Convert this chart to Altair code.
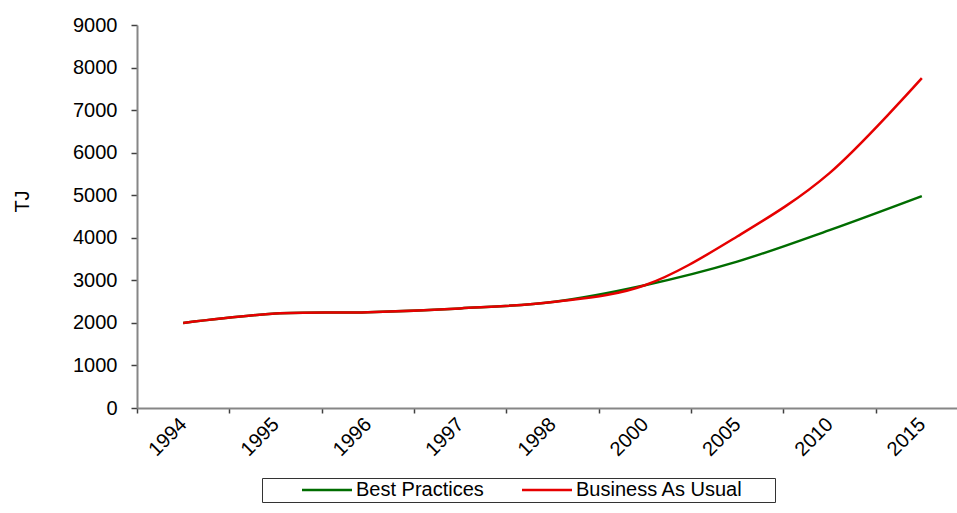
import altair as alt
import pandas as pd

years = ["1994", "1995", "1996", "1997", "1998", "2000", "2005", "2010", "2015"]
best_practices = [2000, 2220, 2250, 2340, 2490, 2885, 3440, 4180, 4980]
business_as_usual = [2000, 2220, 2250, 2340, 2490, 2885, 4030, 5520, 7750]
series_names = ["Best Practices", "Business As Usual"]
series_colors = ["#006d00", "#e60000"]

rows = []
for name, vals in zip(series_names, [best_practices, business_as_usual]):
    for i, (yr, v) in enumerate(zip(years, vals)):
        rows.append({"year": yr, "value": v, "series": name, "order": i})
df = pd.DataFrame(rows)

FONT = "Liberation Sans"
label_expr = (
    f"datum.label == '{series_names[-1]}' ? "
    "datum.label + '\\u2800\\u2800' : datum.label"
)

chart = alt.Chart(df).mark_line(
    interpolate="cardinal", tension=0, strokeWidth=2.5
).encode(
    x=alt.X(
        "year:N",
        sort=years,
        bandPosition=0.5,
        scale=alt.Scale(type="band", domain=years, range=[0, 831], paddingInner=0, paddingOuter=0),
        axis=alt.Axis(
            title=None,
            tickBand="extent",
            labelAngle=-45,
            labelAlign="right",
            labelBaseline="middle",
            labelPadding=8,
            tickSize=5,
            labelFontSize=20,
            labelFont=FONT,
            labelColor="black",
            domainColor="#868686",
            domainWidth=2,
            tickColor="#404040",
            tickWidth=1.5,
            grid=False,
        ),
    ),
    y=alt.Y(
        "value:Q",
        scale=alt.Scale(domain=[0, 9000], nice=False),
        axis=alt.Axis(
            title="TJ",
            values=list(range(0, 9001, 1000)),
            format="d",
            tickSize=6,
            labelPadding=14,
            labelFontSize=20,
            labelFont=FONT,
            labelColor="black",
            titleFontSize=20,
            titleFont=FONT,
            titleFontWeight="normal",
            titleColor="black",
            titleX=-115,
            titleY=176,
            titleAlign="center",
            titleBaseline="middle",
            titleAngle=270,
            domainColor="#868686",
            domainWidth=2,
            tickColor="#404040",
            tickWidth=1.5,
            grid=False,
        ),
    ),
    color=alt.Color(
        "series:N",
        scale=alt.Scale(domain=series_names, range=series_colors),
        legend=alt.Legend(
            title=None,
            orient="none",
            direction="horizontal",
            legendX=125,
            legendY=453,
            symbolType="M-5,0H5",
            symbolSize=100,
            symbolStrokeWidth=2.5,
            symbolOffset=53,
            labelOffset=19,
            labelLimit=400,
            labelExpr=label_expr,
            columnPadding=0,
            padding=2,
            labelFontSize=20,
            labelFont=FONT,
            labelColor="black",
            strokeColor="#333333",
        ),
    ),
    order="order:Q",
).properties(
    width=820,
    height=383,
    autosize=alt.AutoSizeParams(type="none"),
    padding={"left": 137, "top": 25, "right": 0, "bottom": 105},
    background="white",
).configure_view(stroke=None)

chart.save("out.html", embed_options={"renderer": "svg", "actions": False})
